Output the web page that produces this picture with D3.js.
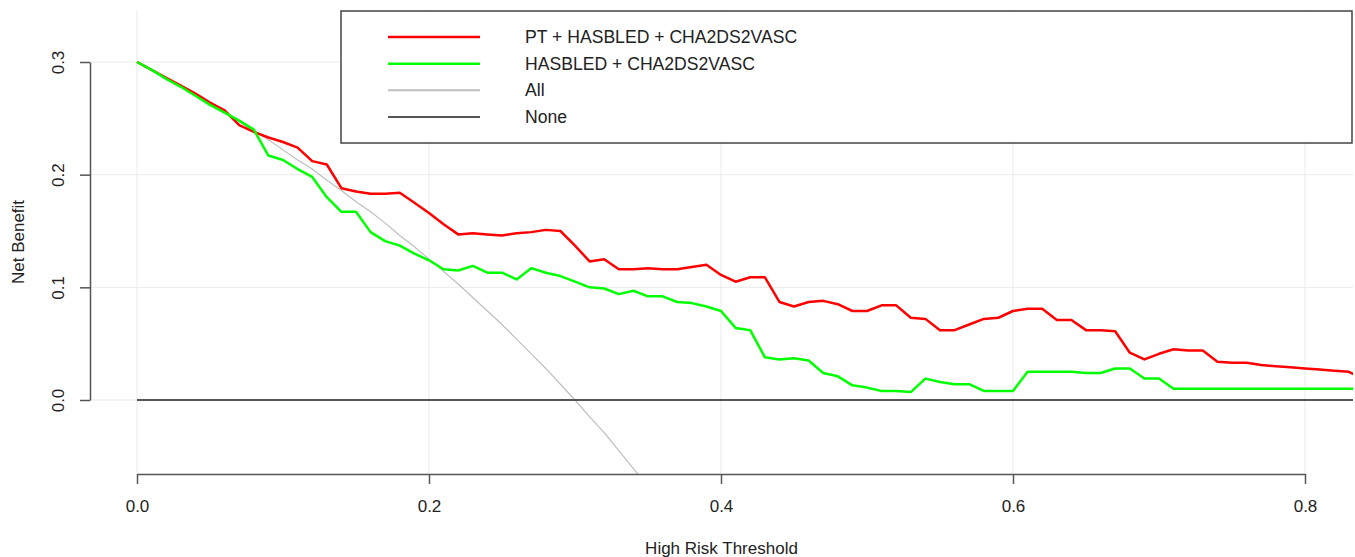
<!DOCTYPE html>
<html>
<head>
<meta charset="utf-8">
<script src="https://cdn.jsdelivr.net/npm/d3@7"></script>
<style>
  body { margin: 0; background: #fff; }
  svg { display: block; font-family: "Liberation Sans", Arial, sans-serif; }
</style>
</head>
<body>
<svg width="1355" height="557"></svg>
<script>
const svg = d3.select("svg");

// thresholds, one point per 0.01
const thresholds = [0.00,0.01,0.02,0.03,0.04,0.05,0.06,0.07,0.08,0.09,
  0.10,0.11,0.12,0.13,0.14,0.15,0.16,0.17,0.18,0.19,
  0.20,0.21,0.22,0.23,0.24,0.25,0.26,0.27,0.28,0.29,
  0.30,0.31,0.32,0.33,0.34,0.35,0.36,0.37,0.38,0.39,
  0.40,0.41,0.42,0.43,0.44,0.45,0.46,0.47,0.48,0.49,
  0.50,0.51,0.52,0.53,0.54,0.55,0.56,0.57,0.58,0.59,
  0.60,0.61,0.62,0.63,0.64,0.65,0.66,0.67,0.68,0.69,
  0.70,0.71,0.72,0.73,0.74,0.75,0.76,0.77,0.78,0.79,
  0.80,0.81,0.82,0.83,0.84];

// PT + HASBLED + CHA2DS2VASC
const ptModel = [0.300,0.293,0.286,0.279,0.272,0.264,0.257,0.244,0.238,0.233,
  0.229,0.224,0.212,0.209,0.188,0.185,0.183,0.183,0.184,0.175,
  0.166,0.156,0.147,0.148,0.147,0.146,0.148,0.149,0.151,0.150,
  0.137,0.123,0.125,0.116,0.116,0.117,0.116,0.116,0.118,0.120,
  0.111,0.105,0.109,0.109,0.087,0.083,0.087,0.088,0.085,0.079,
  0.079,0.084,0.084,0.073,0.072,0.062,0.062,0.067,0.072,0.073,
  0.079,0.081,0.081,0.071,0.071,0.062,0.062,0.061,0.042,0.036,
  0.041,0.045,0.044,0.044,0.034,0.033,0.033,0.031,0.030,0.029,
  0.028,0.027,0.026,0.025,0.019];

// HASBLED + CHA2DS2VASC
const baseModel = [0.300,0.293,0.285,0.278,0.270,0.262,0.255,0.248,0.240,0.217,
  0.213,0.205,0.198,0.180,0.167,0.167,0.149,0.141,0.137,0.130,
  0.124,0.116,0.115,0.119,0.113,0.113,0.107,0.117,0.113,0.110,
  0.105,0.100,0.099,0.094,0.097,0.092,0.092,0.087,0.086,0.083,
  0.079,0.064,0.062,0.038,0.036,0.037,0.035,0.024,0.021,0.013,
  0.011,0.008,0.008,0.007,0.019,0.016,0.014,0.014,0.008,0.008,
  0.008,0.025,0.025,0.025,0.025,0.024,0.024,0.028,0.028,0.019,
  0.019,0.010,0.010,0.010,0.010,0.010,0.010,0.010,0.010,0.010,
  0.010,0.010,0.010,0.010,0.010];

// treat all (runs off the bottom after ~0.34)
const allNB = [0.300,0.293,0.286,0.278,0.271,0.263,0.255,0.247,0.239,0.231,
  0.222,0.213,0.205,0.195,0.186,0.176,0.167,0.157,0.146,0.136,
  0.125,0.114,0.103,0.091,0.079,0.067,0.054,0.041,0.028,0.014,
  0.000,-0.015,-0.029,-0.045,-0.061,-0.077];

// treat none
const noneNB = thresholds.map(() => 0);

const xTicks = [0, 0.2, 0.4, 0.6, 0.8];
const yTicks = [0, 0.1, 0.2, 0.3];

const legendNames = ["PT + HASBLED + CHA2DS2VASC", "HASBLED + CHA2DS2VASC", "All", "None"];
const legendColors = ["#ff0000", "#00ff00", "#bebebe", "#555555"];

// plot box
const plotL = 90, plotR = 1353, plotT = 10, plotB = 474;

const x = d3.scaleLinear().domain([0, 0.8]).range([137, 1305]);
const y = d3.scaleLinear().domain([0, 0.3]).range([400, 62]);

svg.append("defs").append("clipPath").attr("id", "plot")
  .append("rect")
  .attr("x", plotL).attr("y", plotT)
  .attr("width", plotR - plotL).attr("height", plotB - plotT);

// grid
const grid = svg.append("g").attr("stroke", "#ebebeb").attr("stroke-width", 1);
grid.selectAll(".vx").data(xTicks).enter().append("line")
  .attr("x1", d => x(d)).attr("x2", d => x(d))
  .attr("y1", plotT).attr("y2", plotB);
grid.selectAll(".hy").data(yTicks).enter().append("line")
  .attr("x1", plotL).attr("x2", plotR)
  .attr("y1", d => y(d)).attr("y2", d => y(d));

// lines
const line = d3.line().x(d => x(d[0])).y(d => y(d[1]));
const lines = svg.append("g").attr("clip-path", "url(#plot)").attr("fill", "none");

lines.append("path")
  .attr("d", line(allNB.map((v, i) => [thresholds[i], v])))
  .attr("stroke", legendColors[2]).attr("stroke-width", 1.2);

lines.append("path")
  .attr("d", line(noneNB.map((v, i) => [thresholds[i], v])))
  .attr("stroke", legendColors[3]).attr("stroke-width", 2);

lines.append("path")
  .attr("d", line(ptModel.map((v, i) => [thresholds[i], v])))
  .attr("stroke", legendColors[0]).attr("stroke-width", 2.5)
  .attr("stroke-linejoin", "round");

lines.append("path")
  .attr("d", line(baseModel.map((v, i) => [thresholds[i], v])))
  .attr("stroke", legendColors[1]).attr("stroke-width", 2.5)
  .attr("stroke-linejoin", "round");

// axes
const xAxis = svg.append("g")
  .attr("transform", `translate(0,${plotB})`)
  .call(d3.axisBottom(x).tickValues(xTicks).tickFormat(d3.format(".1f"))
    .tickSize(10).tickSizeOuter(0).tickPadding(16));

const yAxis = svg.append("g")
  .attr("transform", `translate(${plotL},0)`)
  .call(d3.axisLeft(y).tickValues(yTicks).tickFormat(d3.format(".1f"))
    .tickSize(10).tickSizeOuter(0));

[xAxis, yAxis].forEach(a => {
  a.select(".domain").attr("stroke", "#555").attr("stroke-width", 1.5);
  a.selectAll(".tick line").attr("stroke", "#555").attr("stroke-width", 1.5);
  a.selectAll(".tick text").attr("fill", "#222")
    .style("font-size", "17px").style("font-family", "Liberation Sans, Arial, sans-serif");
});

yAxis.selectAll(".tick text")
  .attr("transform", "rotate(-90)")
  .attr("x", 0).attr("y", -26).attr("dy", 0)
  .attr("text-anchor", "middle");

// titles
svg.append("text")
  .attr("x", (plotL + plotR) / 2).attr("y", 554)
  .attr("text-anchor", "middle").attr("fill", "#222")
  .style("font-size", "17px")
  .text("High Risk Threshold");

svg.append("text")
  .attr("transform", `translate(24,${(plotT + plotB) / 2}) rotate(-90)`)
  .attr("text-anchor", "middle").attr("fill", "#222")
  .style("font-size", "17px")
  .text("Net Benefit");

// legend
const legend = svg.append("g");
legend.append("rect")
  .attr("x", 341).attr("y", 11)
  .attr("width", 1011).attr("height", 132)
  .attr("fill", "#fff").attr("stroke", "#444").attr("stroke-width", 1.5);

const rowY = d3.scalePoint().domain(legendNames).range([37, 117]);

legend.selectAll(".key").data(legendNames).enter().append("line")
  .attr("x1", 388).attr("x2", 480)
  .attr("y1", d => rowY(d)).attr("y2", d => rowY(d))
  .attr("stroke", (d, i) => legendColors[i])
  .attr("stroke-width", (d, i) => i < 2 ? 2.5 : 2);

legend.selectAll(".lab").data(legendNames).enter().append("text")
  .attr("x", 525).attr("y", d => rowY(d))
  .attr("dy", "0.35em").attr("fill", "#222")
  .style("font-size", "17.6px")
  .text(d => d);
</script>
</body>
</html>
